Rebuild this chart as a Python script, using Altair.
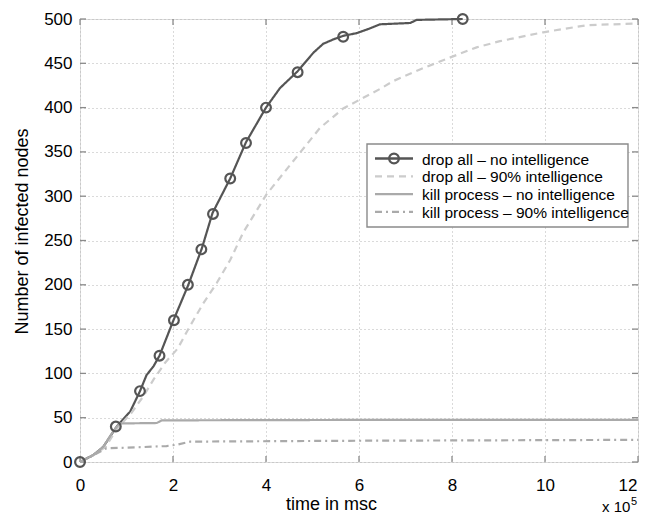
import altair as alt
import pandas as pd

# ---------------- data (x in units of 10^5 msc) ----------------
SERIES = [
    "drop all – no intelligence",
    "drop all – 90% intelligence",
    "kill process – no intelligence",
    "kill process – 90% intelligence",
]

s1_x = [0, 0.29, 0.5, 0.79, 1.08, 1.29, 1.43, 1.58, 1.71, 2.01, 2.33, 2.62, 2.85, 3.23, 3.57, 4.0, 4.3, 4.68, 5.02, 5.23, 5.45, 5.66, 5.95, 6.24, 6.45, 7.1, 7.24, 8.23]
s1_y = [0, 8, 17, 40, 57, 80, 98, 108, 120, 160, 200, 241, 281, 320, 361, 400, 422, 441, 462, 472, 477, 481, 484, 489.5, 494, 495.5, 499, 500]

s2_x = [0, 0.3, 0.55, 0.8, 1.1, 1.36, 1.58, 1.83, 2.1, 2.35, 2.65, 2.94, 3.23, 3.51, 4.01, 4.73, 5.16, 5.66, 6.45, 6.74, 7.31, 7.88, 8.53, 9.03, 9.96, 10.9, 12.0]
s2_y = [0, 8, 17, 38, 55, 74, 93, 112, 128, 152, 179, 202, 228, 259, 302, 349, 377, 399, 421, 430, 443, 455, 468, 475, 485, 493, 495]

s3_x = [0, 0.29, 0.5, 0.72, 0.85, 1.65, 1.76, 6.0, 12.0]
s3_y = [0, 8, 17, 35, 43.5, 44, 47, 47.5, 47.5]

s4_x = [0, 0.3, 0.57, 1.2, 1.86, 2.08, 2.37, 6.0, 12.0]
s4_y = [0, 8, 15.5, 16.5, 18, 19.5, 23, 24, 25]

marker_x = [0, 0.77, 1.29, 1.71, 2.02, 2.32, 2.61, 2.86, 3.23, 3.57, 4.0, 4.68, 5.66, 8.23]
marker_y = [0, 40, 80, 120, 160, 200, 240, 280, 320, 360, 400, 440, 480, 500]

x_ticks = [0, 2, 4, 6, 8, 10, 12]
y_ticks = [0, 50, 100, 150, 200, 250, 300, 350, 400, 450, 500]

# ---------------- styles ----------------
COLORS = ["#555555", "#cccccc", "#aaaaaa", "#aaaaaa"]
DASHES = [[1, 0], [7, 5], [1, 0], [7, 4, 2, 4]]
WIDTHS = [2.4, 2.2, 2.2, 2.2]
FRAME = "#8a8a8a"
FONT = "Liberation Sans"
W, H = 558, 443

rows = []
for name, xs, ys in zip(SERIES, [s1_x, s2_x, s3_x, s4_x], [s1_y, s2_y, s3_y, s4_y]):
    for i, (a, b) in enumerate(zip(xs, ys)):
        rows.append({"series": name, "x": a, "y": b, "o": i})
df = pd.DataFrame(rows)
mk = pd.DataFrame({"x": marker_x, "y": marker_y})
xt = pd.DataFrame({"x": x_ticks})
yt = pd.DataFrame({"y": y_ticks})

xscale = alt.Scale(domain=[0, 12], nice=False, zero=False)
yscale = alt.Scale(domain=[0, 500], nice=False)

last_x = x_ticks[-1]
xaxis = alt.Axis(values=x_ticks, format="d", grid=True, gridDash=[1, 3], gridColor="#b5b5b5",
                 gridWidth=1, ticks=False, tickSize=0, domain=False, labelFontSize=17,
                 labelColor="black", labelFont=FONT, labelPadding=15, labelFlush=False,
                 labelOverlap=False,
                 labelAlign={"condition": {"test": f"datum.value == {last_x}", "value": "right"},
                             "value": "center"},
                 labelOffset={"condition": {"test": f"datum.value == {last_x}", "value": -1},
                              "value": 0},
                 title="time in msc", titleFont=FONT, titleFontSize=18, titleFontWeight="normal",
                 titleColor="black", titleX=251, titleY=47, titleBaseline="alphabetic")
yaxis = alt.Axis(values=y_ticks, grid=True, gridDash=[1, 3], gridColor="#b5b5b5",
                 gridWidth=1, ticks=False, tickSize=0, domain=False, labelFontSize=17,
                 labelColor="black", labelFont=FONT, labelPadding=8, labelFlush=False,
                 labelOverlap=False,
                 title="Number of infected nodes", titleFont=FONT, titleFontSize=18,
                 titleFontWeight="normal", titleColor="black", titleX=-58, titleY=212,
                 titleAngle=270, titleBaseline="middle")

X = alt.X("x:Q", scale=xscale, axis=xaxis, title="time in msc")
Y = alt.Y("y:Q", scale=yscale, axis=yaxis, title="Number of infected nodes")

lines = alt.Chart(df).mark_line(clip=False).encode(
    x=X, y=Y,
    color=alt.Color("series:N", scale=alt.Scale(domain=SERIES[::-1], range=COLORS[::-1]), legend=None),
    strokeDash=alt.StrokeDash("series:N", scale=alt.Scale(domain=SERIES[::-1], range=DASHES[::-1]), legend=None),
    strokeWidth=alt.StrokeWidth("series:N", scale=alt.Scale(domain=SERIES[::-1], range=WIDTHS[::-1]), legend=None),
    detail="series:N",
    order="o:Q",
)

points = alt.Chart(mk).mark_point(shape="circle", filled=False, size=95, strokeWidth=2.2,
                                  color=COLORS[0], opacity=1, clip=False).encode(x=X, y=Y)

TL = 6
tick_style = dict(color=FRAME, strokeWidth=1.3)
tb = alt.Chart(xt).mark_rule(**tick_style).encode(x=X, y=alt.value(H), y2=alt.value(H - TL))
tt = alt.Chart(xt).mark_rule(**tick_style).encode(x=X, y=alt.value(0), y2=alt.value(TL))
tl = alt.Chart(yt).mark_rule(**tick_style).encode(y=Y, x=alt.value(0), x2=alt.value(TL))
tr = alt.Chart(yt).mark_rule(**tick_style).encode(y=Y, x=alt.value(W), x2=alt.value(W - TL))

# ---------------- legend (manual) ----------------
one = pd.DataFrame({"k": [0]})
LX0, LX1, LY0, LY1 = 287, 548, 125, 208
ROW0, ROWSTEP = 139.5, 17.8
SX0, SX1, TX = 295, 333, 342
legend_layers = [
    alt.Chart(one).mark_rect(fill="white", stroke=FRAME, strokeWidth=1.4).encode(
        x=alt.value(LX0), x2=alt.value(LX1), y=alt.value(LY0), y2=alt.value(LY1))
]
for i, name in enumerate(SERIES):
    yy = ROW0 + i * ROWSTEP
    legend_layers.append(
        alt.Chart(one).mark_rule(color=COLORS[i], strokeDash=DASHES[i], strokeWidth=WIDTHS[i]).encode(
            x=alt.value(SX0), x2=alt.value(SX1), y=alt.value(yy)))
    legend_layers.append(
        alt.Chart(one).mark_text(text=name, align="left", baseline="middle", font=FONT,
                                 fontSize=15.5, color="black").encode(
            x=alt.value(TX), y=alt.value(yy + 1)))
legend_layers.append(
    alt.Chart(one).mark_point(shape="circle", filled=False, size=95, strokeWidth=2.2,
                              color=COLORS[0], opacity=1).encode(
        x=alt.value((SX0 + SX1) / 2), y=alt.value(ROW0)))

exp1 = alt.Chart(one).mark_text(text="x 10", align="left", baseline="alphabetic", font=FONT,
                                fontSize=15, color="black").encode(x=alt.value(522), y=alt.value(493))
exp2 = alt.Chart(one).mark_text(text="5", align="left", baseline="alphabetic", font=FONT,
                                fontSize=11, color="black").encode(x=alt.value(551), y=alt.value(486))

chart = alt.layer(tb, tt, tl, tr, lines, points, *legend_layers, exp1, exp2).properties(
    width=W, height=H,
    autosize=alt.AutoSizeParams(type="none"),
    padding={"left": 72, "top": 11, "right": 1, "bottom": 53},
).configure_view(stroke=FRAME, strokeWidth=1.5).configure(background="white")

chart.save("out.html", embed_options={"renderer": "svg", "actions": False})
